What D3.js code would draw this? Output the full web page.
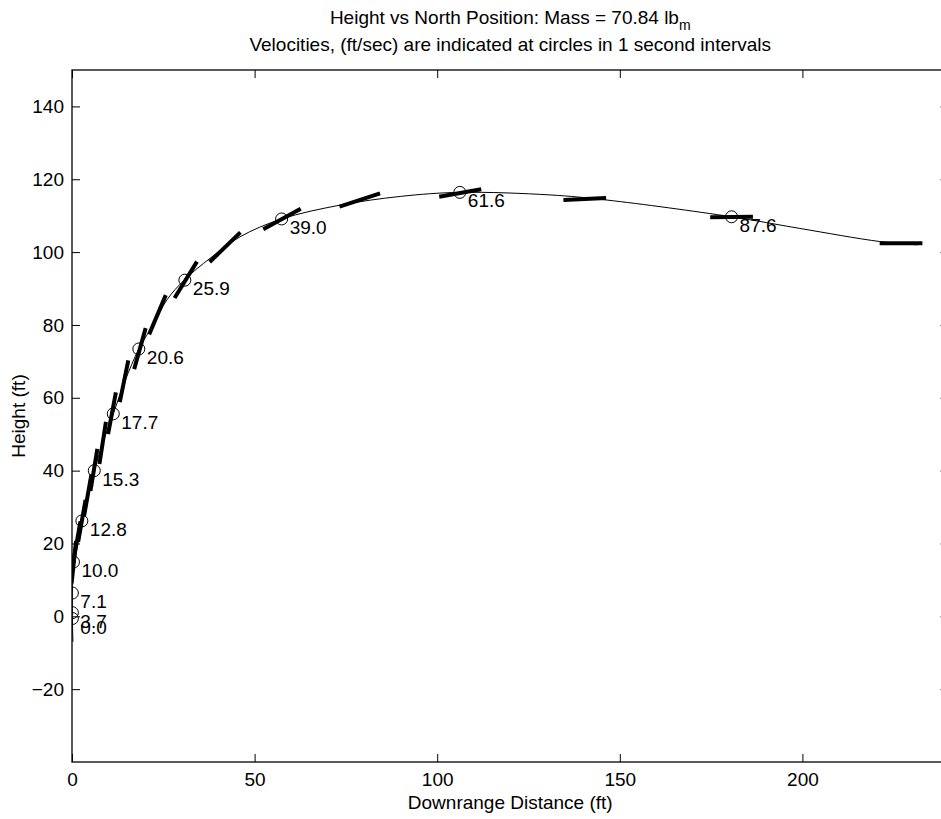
<!DOCTYPE html>
<html>
<head>
<meta charset="utf-8">
<script src="https://cdn.jsdelivr.net/npm/d3@7"></script>
<style>
  html, body { margin: 0; padding: 0; background: #fff; }
  svg { display: block; font-family: "Liberation Sans", Arial, Helvetica, sans-serif; }
</style>
</head>
<body>
<svg id="chart" width="941" height="819"></svg>
<script>
// Flight path, downrange distance vs height (ft)
const pathX = [0.25, 0.1, 0.1, 0.1, 0.5, 1.3, 2.7, 4.3, 6.1, 8.4, 11.3, 14.5, 18.3, 22.5, 26.0, 30.9,
               37.8, 46.0, 57.4, 73.4, 90.0, 106.2, 130.9, 146.4, 180.6, 199.3, 221.2, 231.3];
const pathY = [-7.0, -0.6, 1.0, 6.4, 14.9, 20.3, 26.2, 33.2, 40.0, 47.6, 55.6, 64.6, 73.4, 80.5, 86.9, 92.5,
               98.3, 104.2, 109.1, 112.9, 115.3, 116.4, 115.7, 114.3, 109.7, 106.5, 102.9, 102.0];

// Position and speed (ft/sec) at each whole second
const markX = [0.1, 0.1, 0.1, 0.4, 2.7, 6.1, 11.3, 18.3, 30.9, 57.4, 106.2, 180.6];
const markY = [-0.6, 1.0, 6.4, 14.9, 26.2, 40.0, 55.6, 73.4, 92.3, 109.1, 116.4, 109.7];
const markSpeed = [0.0, 3.7, 7.1, 10.0, 12.8, 15.3, 17.7, 20.6, 25.9, 39.0, 61.6, 87.6];

// Body attitude every half second: centre (ft) and pitch (deg)
const bodyX = [0.5, 1.3, 2.7, 4.3, 6.0, 8.4, 10.95, 14.25, 18.6, 23.4, 31.15, 41.9, 57.5, 78.8, 106.3, 140.4, 180.6, 227.0];
const bodyY = [14.9, 20.3, 26.2, 33.2, 40.2, 47.6, 55.75, 64.55, 73.5, 82.8, 92.4, 101.35, 109.1, 114.3, 116.25, 114.6, 109.65, 102.4];
const bodyPitch = [84, 80, 80, 80, 80.7, 81.2, 79.5, 78.5, 74.4, 67.1, 58.4, 44.1, 28.9, 18.3, 10.1, 2.7, 0.8, 0];
const bodyLength = 11.7;

const xDomain = [0, 240];
const yDomain = [-40, 150];
const xTicks = [0, 50, 100, 150, 200];
const yTicks = [-20, 0, 20, 40, 60, 80, 100, 120, 140];

const svg = d3.select("#chart");
const plotLeft = 72, plotRight = 948.5, plotTop = 70, plotBottom = 762;
const fontSize = 19;

const x = d3.scaleLinear().domain(xDomain).range([plotLeft, plotRight]);
const y = d3.scaleLinear().domain(yDomain).range([plotBottom, plotTop]);

svg.append("defs").append("clipPath").attr("id", "plotClip")
  .append("rect").attr("x", plotLeft).attr("y", plotTop)
  .attr("width", plotRight - plotLeft).attr("height", plotBottom - plotTop);

// Axes with inward ticks on all four sides
const styleAxis = g => {
  g.select(".domain").remove();
  g.selectAll(".tick line").attr("stroke", "#000").attr("stroke-width", 1);
  g.selectAll(".tick text").attr("fill", "#000").attr("font-size", fontSize)
    .attr("font-family", "Liberation Sans, Arial, sans-serif");
};
svg.append("g").attr("transform", `translate(0,${plotBottom})`)
  .call(d3.axisBottom(x).tickValues(xTicks).tickSize(-8).tickSizeOuter(0).tickPadding(11))
  .call(styleAxis);
svg.append("g").attr("transform", `translate(0,${plotTop})`)
  .call(d3.axisTop(x).tickValues(xTicks).tickSize(-8).tickSizeOuter(0).tickFormat(""))
  .call(styleAxis);
svg.append("g").attr("transform", `translate(${plotLeft},0)`)
  .call(d3.axisLeft(y).tickValues(yTicks).tickSize(-8).tickSizeOuter(0).tickPadding(8))
  .call(styleAxis);
svg.append("g").attr("transform", `translate(${plotRight},0)`)
  .call(d3.axisRight(y).tickValues(yTicks).tickSize(-8).tickSizeOuter(0).tickFormat(""))
  .call(styleAxis);

svg.append("rect")
  .attr("x", plotLeft).attr("y", plotTop)
  .attr("width", plotRight - plotLeft).attr("height", plotBottom - plotTop)
  .attr("fill", "none").attr("stroke", "#000").attr("stroke-width", 1.3);

const plot = svg.append("g").attr("clip-path", "url(#plotClip)");

// Flight path
const pts = pathX.map((d, i) => [d, pathY[i]]);
plot.append("path")
  .attr("d", d3.line().x(d => x(d[0])).y(d => y(d[1])).curve(d3.curveCatmullRom.alpha(0.5))(pts))
  .attr("fill", "none").attr("stroke", "#000").attr("stroke-width", 1);

// Body attitude segments
const bodies = bodyX.map((d, i) => ({ cx: d, cy: bodyY[i], a: bodyPitch[i] * Math.PI / 180 }));
plot.selectAll("line.body").data(bodies).join("line").attr("class", "body")
  .attr("x1", d => x(d.cx - bodyLength / 2 * Math.cos(d.a)))
  .attr("y1", d => y(d.cy - bodyLength / 2 * Math.sin(d.a)))
  .attr("x2", d => x(d.cx + bodyLength / 2 * Math.cos(d.a)))
  .attr("y2", d => y(d.cy + bodyLength / 2 * Math.sin(d.a)))
  .attr("stroke", "#000").attr("stroke-width", 4);

// One-second markers
const marks = markX.map((d, i) => ({ x: d, y: markY[i], v: markSpeed[i] }));
plot.selectAll("circle.mark").data(marks).join("circle").attr("class", "mark")
  .attr("cx", d => x(d.x)).attr("cy", d => y(d.y)).attr("r", 6)
  .attr("fill", "none").attr("stroke", "#000").attr("stroke-width", 1);

svg.selectAll("text.speed").data(marks).join("text").attr("class", "speed")
  .attr("x", d => x(d.x) + 8).attr("y", d => y(d.y) + 15)
  .attr("font-size", fontSize).attr("fill", "#000")
  .text(d => d.v.toFixed(1));

// Titles
const title = svg.append("text").attr("x", (plotLeft + plotRight) / 2).attr("y", 24)
  .attr("text-anchor", "middle").attr("font-size", fontSize).attr("fill", "#000");
title.append("tspan").text("Height vs North Position: Mass = 70.84 lb");
title.append("tspan").attr("font-size", 14).attr("dy", 6).text("m");

svg.append("text").attr("x", (plotLeft + plotRight) / 2).attr("y", 51)
  .attr("text-anchor", "middle").attr("font-size", fontSize).attr("fill", "#000")
  .text("Velocities, (ft/sec) are indicated at circles in 1 second intervals");

svg.append("text").attr("x", (plotLeft + plotRight) / 2).attr("y", 809)
  .attr("text-anchor", "middle").attr("font-size", fontSize).attr("fill", "#000")
  .text("Downrange Distance (ft)");

svg.append("text")
  .attr("transform", `translate(25,${(plotTop + plotBottom) / 2}) rotate(-90)`)
  .attr("text-anchor", "middle").attr("font-size", fontSize).attr("fill", "#000")
  .text("Height (ft)");
</script>
</body>
</html>
